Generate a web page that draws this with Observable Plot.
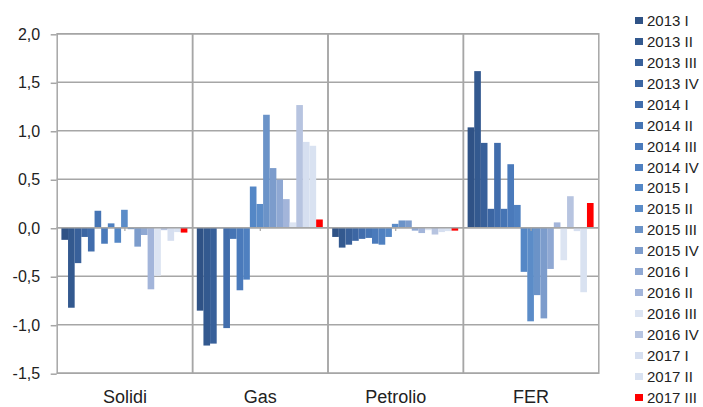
<!DOCTYPE html>
<html><head><meta charset="utf-8">
<script src="https://cdn.jsdelivr.net/npm/d3@7"></script>
<script src="https://cdn.jsdelivr.net/npm/@observablehq/plot@0.6"></script>
<style>
body{margin:0;background:#fff;font-family:"Liberation Sans",Arial,sans-serif;}
#wrap{position:relative;width:703px;height:407px;}
#legend{position:absolute;left:635px;top:10px;}
.row{display:flex;align-items:center;height:20.95px;font-size:15px;color:#222;white-space:nowrap;}
.sw{width:8px;height:7px;margin-right:4px;}
</style></head><body><div id="wrap"><div id="legend"></div></div>
<script>
const categories = ["Solidi","Gas","Petrolio","FER"];
const series = ["2013 I","2013 II","2013 III","2013 IV","2014 I","2014 II","2014 III","2014 IV","2015 I","2015 II","2015 III","2015 IV","2016 I","2016 II","2016 III","2016 IV","2017 I","2017 II","2017 III"];
const colors = ["#2F5286","#33598F","#38609A","#3C66A3","#416DAC","#4574B4","#4A7ABB","#4F80C0","#5487C6","#5B8CC8","#6B93C8","#7C9CCC","#8FA8D3","#A3B5DA","#DCE4F2","#B7C4E0","#D6DFF0","#D9E2F1","#FF0000"];
const solidi   = [-0.13,-0.83,-0.37,-0.10,-0.25,0.17,-0.17,0.04,-0.16,0.18,-0.02,-0.20,-0.08,-0.64,-0.50,-0.03,-0.14,-0.05,-0.055];
const gas      = [-0.86,-1.22,-1.20,-0.01,-1.04,-0.12,-0.65,-0.54,0.42,0.24,1.16,0.61,0.49,0.29,0.05,1.26,0.88,0.84,0.08];
const petrolio = [-0.10,-0.21,-0.18,-0.14,-0.12,-0.11,-0.17,-0.18,-0.10,0.035,0.07,0.07,-0.035,-0.06,-0.03,-0.075,-0.05,-0.04,-0.035];
const fer      = [1.03,1.61,0.87,0.19,0.87,0.19,0.65,0.23,-0.46,-0.97,-0.70,-0.94,-0.43,0.05,-0.34,0.32,-0.04,-0.67,0.25];
const yTicks = [-1.5,-1,-0.5,0,0.5,1,1.5,2];

const rows = [];
[solidi,gas,petrolio,fer].forEach((vals,ci)=>vals.forEach((v,si)=>rows.push({cat:categories[ci],series:series[si],value:v})));
const grey = "#a6a6a6";
const plot = Plot.plot({
  width:703, height:407,
  marginLeft:56.7, marginRight:104.7, marginTop:33.3, marginBottom:34.3,
  style:{fontFamily:'"Liberation Sans",Arial,sans-serif', background:"transparent", overflow:"visible"},
  fx:{domain:categories, padding:0, round:false, axis:null, label:null},
  x:{domain:series, paddingInner:0, paddingOuter:0.71, round:false, axis:null, label:null},
  y:{domain:[-1.5,2], axis:null, label:null},
  color:{domain:series, range:colors},
  marks:[
    Plot.gridY(yTicks,{stroke:grey, strokeOpacity:1, strokeWidth:1.5}),
    Plot.barY(rows,{fx:"cat", x:"series", y:"value", fill:"series"}),
    Plot.ruleY([0],{stroke:grey, strokeWidth:1.5}),
    Plot.ruleX(categories,{fx:d=>d, x:()=>series[9], y1:0, y2:-0.04, stroke:grey, strokeWidth:1.2}),
    Plot.frame({stroke:grey, strokeWidth:1.5}),
    Plot.axisY(yTicks,{label:null, tickSize:6, tickPadding:11, stroke:grey, strokeWidth:1.5, fill:"#222", fontSize:16, dy:1,
      tickFormat:d=>d.toFixed(1).replace(".",",")}),
    Plot.axisFx({label:null, anchor:"bottom", tickSize:0, tickPadding:17, fontSize:18, fill:"#222"})
  ]
});
document.getElementById("wrap").prepend(plot);
const legend = d3.select("#legend");
series.forEach((s,i)=>{
  const r = legend.append("div").attr("class","row");
  r.append("div").attr("class","sw").style("background",colors[i]);
  r.append("span").text(s);
});
</script>
</body></html>
